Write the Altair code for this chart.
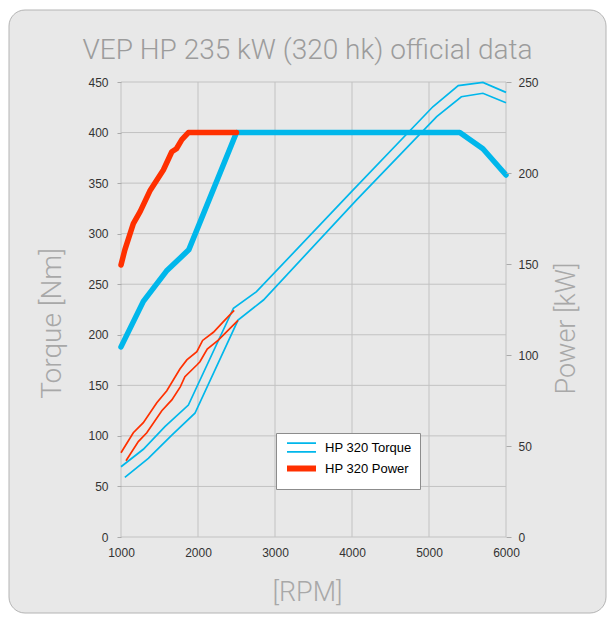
import altair as alt
import pandas as pd

# ---------------- data ----------------
series_names = ["HP 320 Torque", "HP 320 Power"]
series_colors = ["#00b7eb", "#ff3000"]

x_ticks = [1000, 2000, 3000, 4000, 5000, 6000]
nm_ticks = [0, 50, 100, 150, 200, 250, 300, 350, 400, 450]
kw_ticks = [0, 50, 100, 150, 200, 250]

# thick curves (torque, Nm, left axis)
blue_thick_rpm = [1000, 1290, 1590, 1880, 2500, 5400, 5700, 6000]
blue_thick_nm = [188, 233, 263, 284, 400, 400, 384, 358]
red_thick_rpm = [1000, 1050, 1160, 1250, 1380, 1550, 1660, 1720, 1790, 1875, 2500]
red_thick_nm = [269, 284, 310, 322, 343, 363, 381, 384, 393, 400, 400]

# thin double curves (power, kW, right axis) - upper and lower strands
blue_up_rpm = [1000, 1290, 1570, 1875, 2460, 2760, 4000, 5050, 5380, 5700, 6000]
blue_up_kw = [38.6, 48.2, 60.6, 72.5, 125.7, 134.8, 190.0, 236.4, 248.0, 249.8, 244.3]
blue_lo_rpm = [1050, 1355, 1660, 1960, 2520, 2850, 4060, 5100, 5420, 5700, 6000]
blue_lo_kw = [32.8, 43.2, 56.0, 68.0, 119.2, 130.2, 185.2, 231.0, 241.9, 243.8, 238.6]
red_up_rpm = [1000, 1160, 1290, 1465, 1595, 1765, 1855, 1985, 2060, 2200, 2330, 2470]
red_up_kw = [46.3, 57.3, 62.8, 73.8, 80.4, 92.3, 97.3, 101.8, 108.0, 112.5, 118.3, 124.5]
red_lo_rpm = [1065, 1225, 1335, 1530, 1660, 1770, 1830, 1985, 2025, 2120, 2260, 2520]
red_lo_kw = [41.9, 52.4, 57.3, 69.4, 75.3, 82.5, 88.1, 94.5, 96.3, 103.3, 108.0, 119.0]

# ---------------- tables ----------------
def line_df(rpm, vals, series, strand, col):
    return pd.DataFrame({"rpm": rpm, col: vals, "series": series, "strand": strand})

blue_thick = line_df(blue_thick_rpm, blue_thick_nm, series_names[0], "t", "nm")
red_thick = line_df(red_thick_rpm, red_thick_nm, series_names[1], "t", "nm")
blue_thin = pd.concat([
    line_df(blue_up_rpm, blue_up_kw, series_names[0], "up", "kw"),
    line_df(blue_lo_rpm, blue_lo_kw, series_names[0], "lo", "kw"),
])
red_thin = pd.concat([
    line_df(red_up_rpm, red_up_kw, series_names[1], "up", "kw"),
    line_df(red_lo_rpm, red_lo_kw, series_names[1], "lo", "kw"),
])
vgrid = pd.DataFrame({"rpm": x_ticks})
hgrid = pd.DataFrame({"nm": nm_ticks})
frame_df = pd.DataFrame({"a": [0]})

# ---------------- style ----------------
LABEL_FONT = "Liberation Sans"
LIGHT_FONT = "Roboto"
GRID = "#c2c2c2"
BG = "#e8e8e8"

xscale = alt.Scale(domain=[1000, 6000], nice=False, zero=False)
x_axis = alt.Axis(values=x_ticks, format="d", grid=False, domain=False, ticks=False, zindex=2,
                  labelFont=LABEL_FONT, labelFontSize=12, labelColor="#333333",
                  labelPadding=10, labelFlush=False,
                  title="[RPM]", titleFont=LIGHT_FONT, titleFontWeight=300,
                  titleFontSize=27, titleColor="#a8a8a8",
                  titleX=186, titleY=55, titleAlign="center", titleBaseline="middle")
X = alt.X("rpm:Q", scale=xscale, axis=x_axis)

nm_scale = alt.Scale(domain=[0, 450], nice=False, zero=True)
kw_scale = alt.Scale(domain=[0, 250], nice=False, zero=True)

left_axis = alt.Axis(values=nm_ticks, grid=False, domain=False, ticks=True, zindex=2,
                     tickSize=4, tickColor="#aaaaaa",
                     labelFont=LABEL_FONT, labelFontSize=12, labelColor="#333333",
                     labelPadding=9,
                     title="Torque [Nm]", titleFont=LIGHT_FONT, titleFontWeight=300,
                     titleFontSize=28, titleColor="#a8a8a8", titleAngle=270,
                     titleX=-69, titleY=241, titleAlign="center", titleBaseline="middle")
right_axis = alt.Axis(orient="right", values=kw_ticks, grid=False, domain=False, zindex=2,
                      ticks=True, tickSize=5, tickColor="#aaaaaa",
                      labelFont=LABEL_FONT, labelFontSize=12, labelColor="#333333",
                      labelPadding=7,
                      title="Power [kW]", titleFont=LIGHT_FONT, titleFontWeight=300,
                      titleFontSize=27, titleColor="#a8a8a8", titleAngle=270,
                      titleX=60, titleY=246, titleAlign="center", titleBaseline="middle")

color_scale = alt.Scale(domain=series_names, range=series_colors)
legend = alt.Legend(
    title=None, orient="none", legendX=155, legendY=351, zindex=3,
    fillColor="white", strokeColor="#8c8c8c", padding=8,
    labelFont=LABEL_FONT, labelFontSize=13, labelColor="#000000",
    labelOffset=17, rowPadding=0, symbolSize=841, symbolOffset=11,
    symbolType={"expr": "datum.value == 'HP 320 Torque' ? 'M-1,-0.3H1M-1,0.3H1' : 'stroke'"},
    symbolStrokeWidth={"expr": "datum.value == 'HP 320 Torque' ? 1.6 : 6"},
)
COLOR = alt.Color("series:N", scale=color_scale, legend=legend)

# ---------------- layers ----------------
frame = alt.Chart(frame_df).mark_rect(
    fill=BG, stroke="#b4b4b4", strokeWidth=1, cornerRadius=16
).encode(x=alt.value(-112), x2=alt.value(485), y=alt.value(-72), y2=alt.value(531))

vg = alt.Chart(vgrid).mark_rule(color=GRID, strokeWidth=1).encode(x=X)
hg = alt.Chart(hgrid).mark_rule(color=GRID, strokeWidth=1).encode(
    y=alt.Y("nm:Q", scale=nm_scale, axis=None))

thin_blue = alt.Chart(blue_thin).mark_line(strokeWidth=1.7, strokeJoin="miter").encode(
    x=X, y=alt.Y("kw:Q", scale=kw_scale, axis=right_axis),
    color=COLOR, detail="strand:N")
thin_red = alt.Chart(red_thin).mark_line(strokeWidth=1.7, strokeJoin="miter").encode(
    x=X, y=alt.Y("kw:Q", scale=kw_scale, axis=None),
    color=COLOR, detail="strand:N")

thick_blue = alt.Chart(blue_thick).mark_line(strokeWidth=5.5, strokeCap="round",
                                              strokeJoin="round").encode(
    x=X, y=alt.Y("nm:Q", scale=nm_scale, axis=left_axis), color=COLOR)
thick_red = alt.Chart(red_thick).mark_line(strokeWidth=5.5, strokeCap="round",
                                            strokeJoin="round").encode(
    x=X, y=alt.Y("nm:Q", scale=nm_scale, axis=None), color=COLOR)

chart = alt.layer(frame, vg, hg, thin_blue, thin_red, thick_blue, thick_red).resolve_scale(
    y="independent"
).properties(
    width=385, height=455,
    autosize=alt.AutoSizeParams(type="none"),
    padding={"left": 113, "top": 74, "right": 101, "bottom": 77},
    background="white",
    title=alt.TitleParams(
        "VEP HP 235 kW (320 hk) official data",
        font=LIGHT_FONT, fontWeight=300, fontSize=28, color="#9c9c9c", zindex=3,
        anchor="middle", frame="group", baseline="alphabetic", offset=17, dx=-6, dy=94,
    ),
).configure_view(stroke=None)

chart.save("out.html", embed_options={"renderer": "svg", "actions": False})
